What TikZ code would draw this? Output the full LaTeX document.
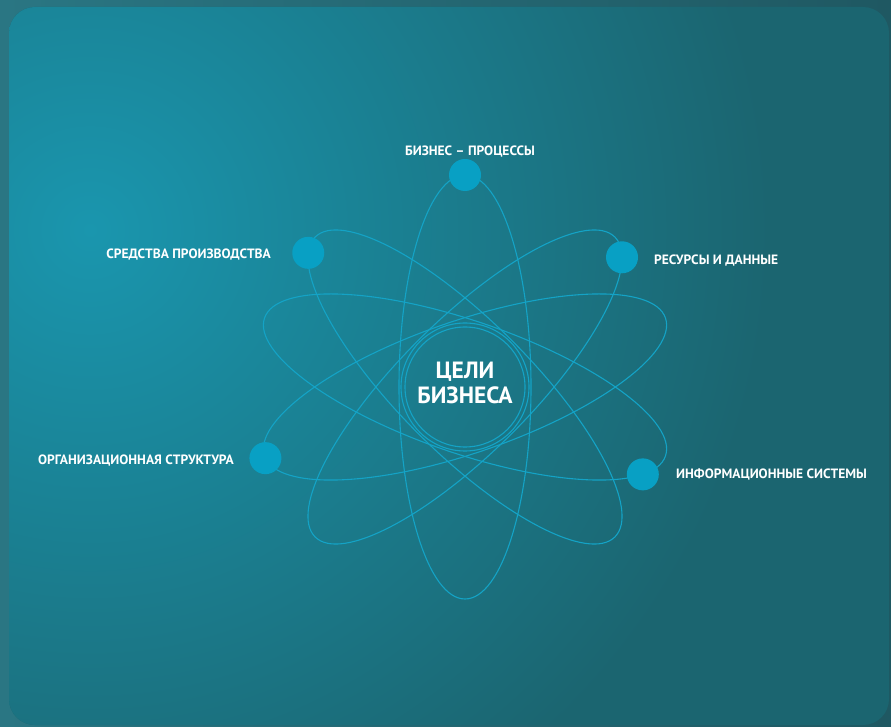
\documentclass[tikz,border=0pt]{standalone}
\usepackage{fontspec}
\setmainfont{PT Sans}
\usetikzlibrary{calc}
\definecolor{outerA}{HTML}{2A7683}
\definecolor{outerB}{HTML}{1F5862}
\definecolor{panelDark}{HTML}{1B6570}
\definecolor{glowA}{HTML}{1A96AE}
\definecolor{orbit}{HTML}{14A3C6}
\definecolor{dot}{HTML}{08A0C4}
\begin{document}
\begin{tikzpicture}[x=1pt,y=1pt,
  orbitline/.style={draw=orbit, line width=1.1pt},
  dotnode/.style={circle, fill=dot, minimum size=32pt, inner sep=0pt},
  lab/.style={text=white, font=\bfseries\fontsize{13.5}{15}\selectfont, inner sep=0pt, text height=9.5pt, text depth=0pt},
  centertext/.style={text=white, font=\bfseries\fontsize{23.5}{25}\selectfont, align=center, inner sep=0pt},
]
\useasboundingbox (0,0) rectangle (891,726);
\shade[left color=outerA, right color=outerB] (0,0) rectangle (891,726);
\begin{scope}
  \clip[rounded corners=26pt] (9,1) rectangle (889,719);
  \fill[panelDark] (0,0) rectangle (891,726);
  \shade[inner color=glowA, outer color=panelDark] (90,496) circle (680);
\end{scope}

\coordinate (C) at (465,339);

% central double circle
\draw[orbitline] (C) circle (64);
\draw[orbitline] (C) circle (60);

% orbits with their dots
\begin{scope}[shift={(C)}, rotate=90]
  \draw[orbitline] (0,0) ellipse [x radius=212, y radius=66];
  \node[dotnode] (bp) at (0:212 and 66) {};
\end{scope}
\begin{scope}[shift={(C)}, rotate=135]
  \draw[orbitline] (0,0) ellipse [x radius=212, y radius=66];
  \node[dotnode] (sp) at (14:212 and 66) {};
\end{scope}
\begin{scope}[shift={(C)}, rotate=45]
  \draw[orbitline] (0,0) ellipse [x radius=212, y radius=66];
  \node[dotnode] (rd) at (-17:212 and 66) {};
\end{scope}
\begin{scope}[shift={(C)}, rotate=-19]
  \draw[orbitline] (0,0) ellipse [x radius=212, y radius=66];
  \node[dotnode] (is) at (-22:212 and 66) {};
\end{scope}
\begin{scope}[shift={(C)}, rotate=19]
  \draw[orbitline] (0,0) ellipse [x radius=212, y radius=66];
  \node[dotnode] (os) at (182:212 and 66) {};
\end{scope}

\node[centertext] (goal) at (465,343) {ЦЕЛИ\\БИЗНЕСА};

\node[lab] (lbp) at (470,575) {БИЗНЕС – ПРОЦЕССЫ};
\node[lab, anchor=east] (lsp) at (271,472) {СРЕДСТВА ПРОИЗВОДСТВА};
\node[lab, anchor=west] (lrd) at (654,466) {РЕСУРСЫ И ДАННЫЕ};
\node[lab, anchor=east] (los) at (234,266) {ОРГАНИЗАЦИОННАЯ СТРУКТУРА};
\node[lab, anchor=west] (lis) at (676,252) {ИНФОРМАЦИОННЫЕ СИСТЕМЫ};
\end{tikzpicture}
\end{document}
